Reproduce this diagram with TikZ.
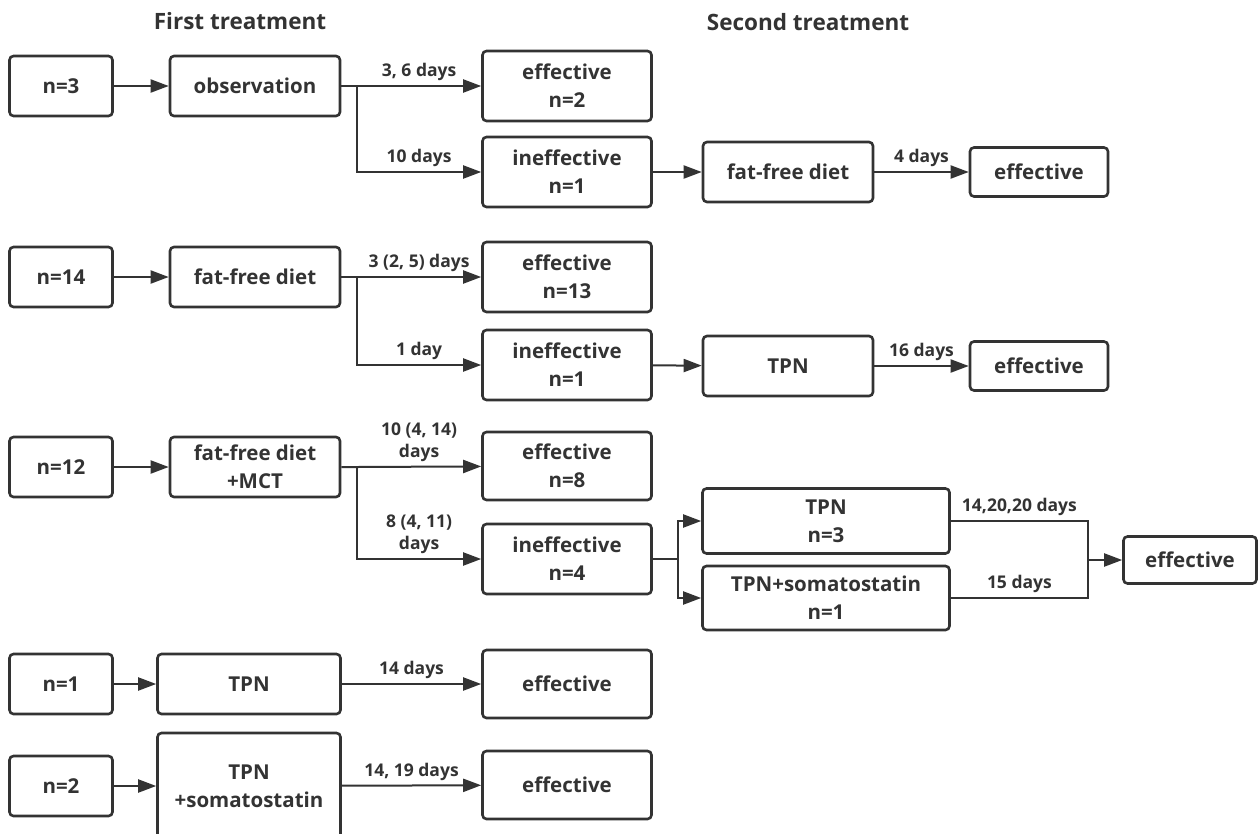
\documentclass[tikz,border=0pt]{standalone}
\usepackage{fontspec}
\setmainfont{Open Sans}
\usetikzlibrary{arrows.meta}
\definecolor{ink}{HTML}{333333}
\tikzset{
  box/.style={draw=ink, text=ink, line width=2.6pt, rounded corners=4pt, align=center,
    inner sep=0pt, font=\fontsize{20.5}{28}\selectfont\bfseries},
  lbl/.style={text=ink, above, inner sep=4pt, align=center,
    font=\fontsize{17.5}{22}\selectfont\bfseries},
  head/.style={text=ink, font=\fontsize{22.5}{24}\selectfont\bfseries},
  flow/.style={draw=ink, line width=2pt, -{Triangle[length=18pt,width=13pt]}},
  link/.style={draw=ink, line width=2pt},
}
\begin{document}
\begin{tikzpicture}[x=1pt,y=-1pt]
  \useasboundingbox (0,0) rectangle (1258,833);
  \node[head] (h1) at (240,21) {First treatment};
  \node[head] (h2) at (808,22) {Second treatment};
  \draw
    (61,86) node[box, minimum width=103, minimum height=60] (n3){n=3}
    (255,86) node[box, minimum width=170, minimum height=60] (obs){observation}
    (567,86) node[box, minimum width=169, minimum height=70] (eff2){effective\\n=2}
    (567,172) node[box, minimum width=169, minimum height=70] (inef1){ineffective\\n=1}
    (788,172) node[box, minimum width=170, minimum height=60] (ffd2){fat-free diet}
    (1039,172) node[box, minimum width=138, minimum height=49] (effa){effective}
    (61,277) node[box, minimum width=103, minimum height=60] (n14){n=14}
    (255,277) node[box, minimum width=170, minimum height=60] (ffd){fat-free diet}
    (567,277) node[box, minimum width=169, minimum height=70] (eff13){effective\\n=13}
    (567,365) node[box, minimum width=169, minimum height=70] (inef2){ineffective\\n=1}
    (788,366) node[box, minimum width=170, minimum height=60] (tpn2){TPN}
    (1039,366) node[box, minimum width=138, minimum height=49] (effb){effective}
    (61,467) node[box, minimum width=103, minimum height=60] (n12){n=12}
    (255,467) node[box, minimum width=170, minimum height=60] (fmct){fat-free diet\\+MCT}
    (567,466) node[box, minimum width=169, minimum height=68] (eff8){effective\\n=8}
    (567,559) node[box, minimum width=169, minimum height=70] (inef4){ineffective\\n=4}
    (826,521) node[box, minimum width=247, minimum height=65] (tpn3){TPN\\n=3}
    (826,598) node[box, minimum width=247, minimum height=64] (tpns){TPN+somatostatin\\n=1}
    (1190,560) node[box, minimum width=133, minimum height=47] (effc){effective}
    (61,684) node[box, minimum width=103, minimum height=60] (n1){n=1}
    (249,684) node[box, minimum width=183, minimum height=60] (tpn){TPN}
    (567,684) node[box, minimum width=169, minimum height=68] (effd){effective}
    (61,786) node[box, minimum width=103, minimum height=60] (n2){n=2}
    (249,786) node[box, minimum width=183, minimum height=106] (tpnsom){TPN\\+somatostatin}
    (567,785) node[box, minimum width=169, minimum height=68] (effe){effective};
  \coordinate (b1) at (357,86);
  \coordinate (b2) at (357,277);
  \coordinate (b3) at (357,467);
  \coordinate (s3) at (678,559);
  \coordinate (m3) at (1088,560);
  \begin{scope}[flow]
    \draw (n3) -- (obs);
    \draw (obs) -- (b1) -- node[lbl] (d1){3, 6 days} (eff2);
    \draw (b1) |- node[lbl, pos=0.75] (d2){10 days} (inef1);
    \draw (inef1) -- (ffd2);
    \draw (ffd2) -- node[lbl] (d3){4 days} (effa);
    \draw (n14) -- (ffd);
    \draw (ffd) -- (b2) -- node[lbl] (d4){3 (2, 5) days} (eff13);
    \draw (b2) |- node[lbl, pos=0.75] (d5){1 day} (inef2);
    \draw (inef2) -- (tpn2);
    \draw (tpn2) -- node[lbl] (d6){16 days} (effb);
    \draw (n12) -- (fmct);
    \draw (fmct) -- (b3) -- node[lbl] (d7){10 (4, 14)\\days} (eff8);
    \draw (b3) |- node[lbl, pos=0.75] (d8){8 (4, 11)\\days} (inef4);
    \draw (inef4) -- (s3) |- (tpn3);
    \draw (s3) |- (tpns);
    \draw (m3) -- (effc);
    \draw (n1) -- (tpn);
    \draw (tpn) -- node[lbl] (d9){14 days} (effd);
    \draw (n2) -- (tpnsom);
    \draw (tpnsom) -- node[lbl] (d10){14, 19 days} (effe);
  \end{scope}
  \begin{scope}[link]
    \draw (tpn3) -| node[lbl, pos=0.25] (d11){14,20,20 days} (m3);
    \draw (tpns) -| node[lbl, pos=0.25] (d12){15 days} (m3);
  \end{scope}
\end{tikzpicture}
\end{document}
